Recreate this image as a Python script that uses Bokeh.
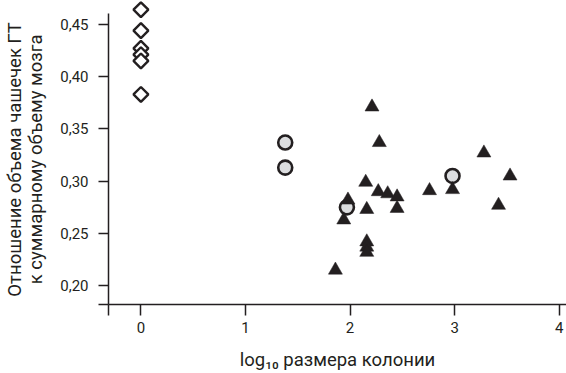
from bokeh.plotting import figure
from bokeh.models import Range1d, FixedTicker
from bokeh.embed import file_html
from bokeh.resources import INLINE
import math

# data
diamond_x = [0, 0, 0, 0, 0, 0]
diamond_y = [0.464, 0.444, 0.427, 0.421, 0.415, 0.383]

circle_x = [1.38, 1.38, 1.97, 2.98]
circle_y = [0.337, 0.313, 0.275, 0.305]

tri_x = [2.21, 2.28, 3.28, 3.53, 2.15, 2.27, 2.36, 2.45, 2.45, 2.76, 2.98,
         3.42, 2.16, 1.98, 1.94, 2.16, 2.16, 2.16, 1.86]
tri_y = [0.371, 0.337, 0.327, 0.305, 0.299, 0.290, 0.288, 0.285, 0.274, 0.291,
         0.292, 0.277, 0.273, 0.282, 0.263, 0.242, 0.237, 0.232, 0.215]

x_ticks = [0, 1, 2, 3, 4]
x_tick_labels = ["0", "1", "2", "3", "4"]
y_ticks = [0.20, 0.25, 0.30, 0.35, 0.40, 0.45]
y_tick_labels = ["0,20", "0,25", "0,30", "0,35", "0,40", "0,45"]

x_label = "log\u2081\u2080 размера колонии"
y_label_lines = ["Отношение объема чашечек ГТ", "к суммарному объему мозга"]

INK = "#231f20"
FONT = "Roboto"

X0, X1 = -0.31, 4.07
Y0, Y1 = 0.1821, 0.4728

p = figure(width=566, height=373, output_backend="svg", toolbar_location=None,
           x_range=Range1d(X0, X1), y_range=Range1d(Y0, Y1),
           min_border_left=108, min_border_right=0, min_border_top=0,
           min_border_bottom=69)
p.grid.visible = False
p.outline_line_color = None
p.background_fill_color = "white"
p.border_fill_color = "white"

# x axis: extra tick at range start (drawn, unlabelled)
xa = p.xaxis[0]
xa.ticker = FixedTicker(ticks=[X0] + x_ticks)
xa.major_label_overrides = {**{X0: ""}, **{t: l for t, l in zip(x_ticks, x_tick_labels)}}
xa.minor_tick_line_color = None
xa.major_tick_out = 11
xa.major_tick_in = 0
xa.major_label_standoff = 6
xa.axis_label = x_label
xa.axis_label_standoff = 13

ya = p.yaxis[0]
ya.ticker = FixedTicker(ticks=[Y0] + y_ticks)
ya.major_label_overrides = {**{Y0: ""}, **{t: l for t, l in zip(y_ticks, y_tick_labels)}}
ya.minor_tick_line_color = None
ya.major_tick_out = 10
ya.major_tick_in = 0
ya.major_label_standoff = 10
# non-breaking spaces at the line ends nudge the centred label down a little
ya.axis_label = "\n".join(line + "\u00a0" * 3 for line in y_label_lines)
ya.axis_label_standoff = 10
ya.axis_label_text_line_height = 0.95
ya.bounds = (Y0, 0.4603)

for ax in (xa, ya):
    ax.axis_line_color = INK
    ax.axis_line_width = 1.5
    ax.major_tick_line_color = INK
    ax.major_tick_line_width = 1.5
    ax.major_label_text_font = FONT
    ax.major_label_text_font_size = "15px"
    ax.major_label_text_color = INK
    ax.axis_label_text_font = FONT
    ax.axis_label_text_font_size = "18.5px"
    ax.axis_label_text_font_style = "normal"
    ax.axis_label_text_color = INK

p.scatter(diamond_x, diamond_y, marker="square", size=10.5, angle=math.pi / 4,
          fill_color="white", line_color=INK, line_width=2.4)
p.scatter(circle_x, circle_y, marker="circle", size=14, fill_color="#dcdddf",
          line_color=INK, line_width=2.6)
p.scatter(tri_x, tri_y, marker="triangle", size=14, fill_color=INK,
          line_color=INK, line_width=0.5)

open("out.html", "w").write(file_html(p, INLINE))
